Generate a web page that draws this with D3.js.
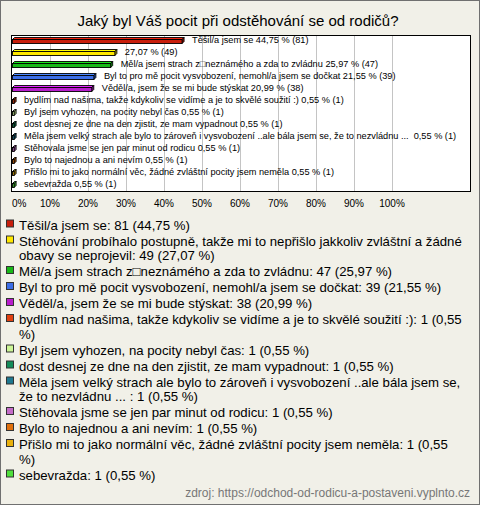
<!DOCTYPE html>
<html><head><meta charset="utf-8">
<script src="https://cdn.jsdelivr.net/npm/d3@7"></script>
<style>
html,body{margin:0;padding:0;background:#fff;}
svg{display:block;}
text{font-family:"Liberation Sans",Arial,sans-serif;}
</style></head>
<body>
<script>
const title = "Jaký byl Váš pocit při odstěhování se od rodičů?";
const categories = [
  "Těšil/a jsem se",
  "Stěhování probíhalo postupně, takže mi to nepřišlo jakkoliv zvláštní a žádné obavy se neprojevil",
  "Měl/a jsem strach z\u25A1neznámého a zda to zvládnu",
  "Byl to pro mě pocit vysvobození, nemohl/a jsem se dočkat",
  "Věděl/a, jsem že se mi bude stýskat",
  "bydlím nad našima, takže kdykoliv se vidíme a je to skvělé soužití :)",
  "Byl jsem vyhozen, na pocity nebyl čas",
  "dost desnej ze dne na den zjistit, ze mam vypadnout",
  "Měla jsem velký strach ale bylo to zároveň i vysvobození ..ale bála jsem se, že to nezvládnu ... ",
  "Stěhovala jsme se jen par minut od rodicu",
  "Bylo to najednou a ani nevím",
  "Přišlo mi to jako normální věc, žádné zvláštní pocity jsem neměla",
  "sebevražda"
];
const counts = [81, 49, 47, 39, 38, 1, 1, 1, 1, 1, 1, 1, 1];
const percents = [44.75, 27.07, 25.97, 21.55, 20.99, 0.55, 0.55, 0.55, 0.55, 0.55, 0.55, 0.55, 0.55];
// bar labels inside the plot (second category's name omitted in the original)
const barNames = [
  "Těšil/a jsem se", "", "Měl/a jsem strach z\u25A1neznámého a zda to zvládnu",
  "Byl to pro mě pocit vysvobození, nemohl/a jsem se dočkat",
  "Věděl/a, jsem že se mi bude stýskat",
  "bydlím nad našima, takže kdykoliv se vidíme a je to skvělé soužití :)",
  "Byl jsem vyhozen, na pocity nebyl čas",
  "dost desnej ze dne na den zjistit, ze mam vypadnout",
  "Měla jsem velký strach ale bylo to zároveň i vysvobození ..ale bála jsem se, že to nezvládnu ... ",
  "Stěhovala jsme se jen par minut od rodicu",
  "Bylo to najednou a ani nevím",
  "Přišlo mi to jako normální věc, žádné zvláštní pocity jsem neměla",
  "sebevražda"
];
const colors = ["#c81e0c", "#ffe800", "#18b818", "#3c6ee6", "#b81ecc", "#e04010", "#ccf596", "#148c5a", "#1e7890", "#c46cc8", "#e0700c", "#e8b00c", "#50e03c"];
const tickValues = [0, 10, 20, 30, 40, 50, 60, 70, 80, 90, 100];
const tickLabels = ["0%", "10%", "20%", "30%", "40%", "50%", "60%", "70%", "80%", "90%", "100%"];
const source = "zdroj: https://odchod-od-rodicu-a-postaveni.vyplnto.cz";

const W = 480, H = 505;
const fmt = v => v.toFixed(2).replace(".", ",");
const svg = d3.select("body").append("svg").attr("width", W).attr("height", H);

svg.append("rect").attr("x", 0.5).attr("y", 0.5).attr("width", W - 1).attr("height", H - 1)
  .attr("fill", "#f1f0e8").attr("stroke", "#707070");

svg.append("text").attr("x", 238).attr("y", 26).attr("text-anchor", "middle")
  .attr("font-size", 15).attr("fill", "#000").text(title);

const plot = {l: 11.5, t: 35.5, r: 470.5, b: 191.5};
const x = d3.scaleLinear().domain([0, 100]).range([12, 392]);
const y = d3.scaleBand().domain(d3.range(categories.length)).range([34, 190]);

svg.append("rect").attr("x", plot.l).attr("y", plot.t).attr("width", plot.r - plot.l)
  .attr("height", plot.b - plot.t).attr("fill", "#fff");

svg.append("g").selectAll("line").data(tickValues.filter(v => v > 0)).join("line")
  .attr("x1", d => Math.round(x(d)) + 0.5).attr("x2", d => Math.round(x(d)) + 0.5)
  .attr("y1", plot.t).attr("y2", plot.b).attr("stroke", "#c4c4c4");

const d = 2;
const bars = svg.append("g").selectAll("g").data(percents).join("g");
bars.each(function(v, i) {
  const g = d3.select(this);
  const x0 = x(0) + 0.5, x1 = Math.max(x(v), x0 + 1.5);
  const yt = y(i) + 5.5, yb = y(i) + 9.5;
  const c = d3.color(colors[i]);
  g.append("path").attr("d", `M${x0},${yt}L${x0 + d},${yt - d}L${x1 + d},${yt - d}L${x1},${yt}Z`)
    .attr("fill", c.brighter(0.6)).attr("stroke", "#000").attr("stroke-width", 0.9);
  g.append("path").attr("d", `M${x1},${yt}L${x1 + d},${yt - d}L${x1 + d},${yb - d}L${x1},${yb}Z`)
    .attr("fill", c.darker(0.8)).attr("stroke", "#000").attr("stroke-width", 0.9);
  g.append("rect").attr("x", x0).attr("y", yt).attr("width", x1 - x0).attr("height", yb - yt)
    .attr("fill", c).attr("stroke", "#000").attr("stroke-width", 0.9);
  g.append("text").attr("x", x(v) + 10).attr("y", y(i) + 6).attr("dy", "0.35em")
    .attr("font-size", 9.2).attr("fill", "#000").style("white-space", "pre")
    .text((barNames[i] ? barNames[i] + " " : "") + fmt(v) + " % (" + counts[i] + ")");
});

svg.append("rect").attr("x", plot.l).attr("y", plot.t).attr("width", plot.r - plot.l)
  .attr("height", plot.b - plot.t).attr("fill", "none").attr("stroke", "#000");

svg.append("g").selectAll("text").data(tickValues).join("text")
  .attr("x", v => x(v)).attr("y", 207)
  .attr("text-anchor", (v, i) => i === 0 ? "start" : "middle")
  .attr("font-size", 10).attr("fill", "#000").text((v, i) => tickLabels[i]);

// legend
const maxW = 445;
let ly = 229.5;
categories.forEach((name, i) => {
  const label = name + ": " + counts[i] + " (" + fmt(percents[i]) + " %)";
  const t = svg.append("text").attr("x", 19).attr("y", ly).attr("font-size", 13.2).attr("fill", "#000");
  const words = label.split(" ");
  let line = [], ts = t.append("tspan").attr("x", 19).attr("y", ly);
  let lines = 1;
  words.forEach(w => {
    line.push(w);
    ts.text(line.join(" "));
    if (ts.node().getComputedTextLength() > maxW && line.length > 1) {
      line.pop(); ts.text(line.join(" "));
      line = [w]; lines++;
      ts = t.append("tspan").attr("x", 19).attr("y", ly + (lines - 1) * 14.5).text(w);
    }
  });
  svg.append("rect").attr("x", 6.5).attr("y", ly - 9.5).attr("width", 7).attr("height", 7)
    .attr("fill", colors[i]).attr("stroke", "#333");
  ly += (lines - 1) * 14.5 + 16;
});

svg.append("text").attr("x", 470).attr("y", 497).attr("text-anchor", "end")
  .attr("font-size", 12).attr("fill", "#777").text(source);
</script>
</body></html>
